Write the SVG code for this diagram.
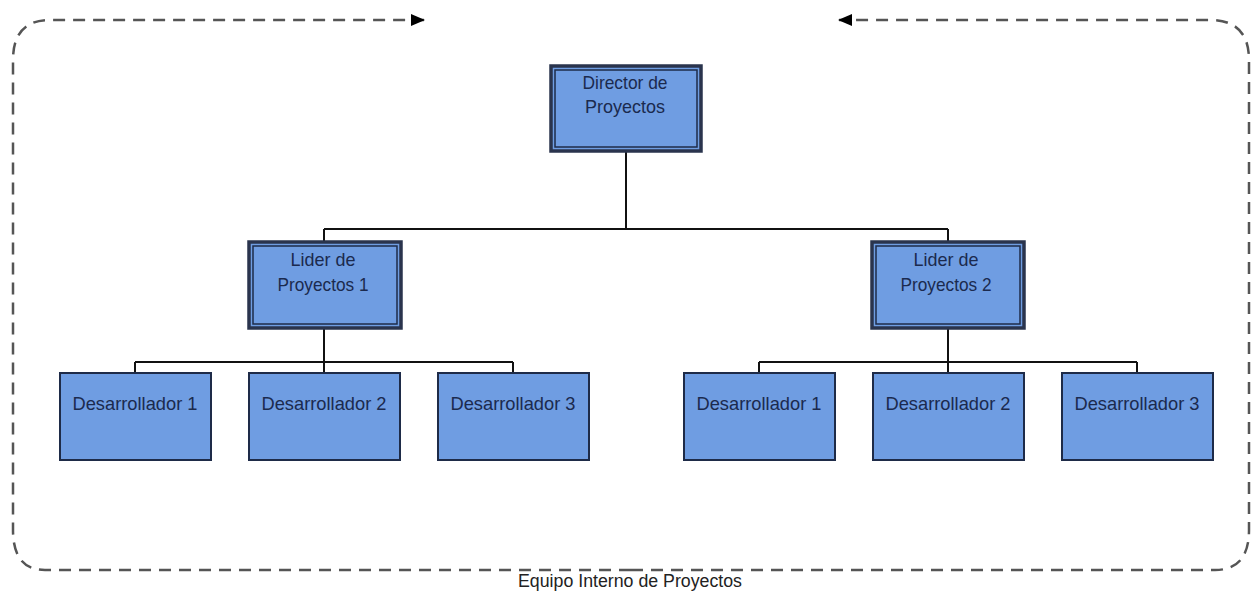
<svg xmlns="http://www.w3.org/2000/svg" width="1251" height="594" viewBox="0 0 1251 594">
  <style>
    .box { fill: #6f9de2; stroke: #1e2b48; stroke-width: 2; }
    .frame { fill: #6f9de2; stroke: #2a344d; stroke-width: 3.5; }
    .inner { fill: none; stroke: #1e2b48; stroke-width: 1.5; }
    .lbl { font-family: "Liberation Sans", Arial, sans-serif; font-size: 19px; fill: #1b2a4e; text-anchor: middle; }
    .wire { fill: none; stroke: #111; stroke-width: 2; }
    .team { fill: none; stroke: #555; stroke-width: 2.5; stroke-dasharray: 12 8; }
    .cap { font-family: "Liberation Sans", Arial, sans-serif; font-size: 18px; fill: #222; text-anchor: middle; }
  </style>
  <defs>
    <marker id="arrow" viewBox="0 0 14 12" refX="13" refY="6" markerWidth="14" markerHeight="12" markerUnits="userSpaceOnUse" orient="auto">
      <path d="M0,0 L14,6 L0,12 Z" fill="#000"/>
    </marker>
  </defs>

  <rect width="1251" height="594" fill="#fff"/>

  <!-- team boundary: two dashed halves meeting at the bottom -->
  <g id="team-boundary">
    <path class="team" d="M631,570 H45 Q13,570 13,530 V60 Q13,20 50,20 H424" marker-end="url(#arrow)"/>
    <path class="team" d="M631,570 H1215 Q1249,570 1249,530 V60 Q1249,20 1210,20 H839" marker-end="url(#arrow)"/>
    <text class="cap" x="630" y="587" textLength="224" lengthAdjust="spacingAndGlyphs">Equipo Interno de Proyectos</text>
  </g>

  <!-- connectors -->
  <g id="connectors">
    <path class="wire" d="M626,151 V229 M324,229 H948 M324,229 V241 M948,229 V241"/>
    <path class="wire" d="M324,329 V362 M135,362 H513 M135,362 V373 M324,362 V373 M513,362 V373"/>
    <path class="wire" d="M948,329 V362 M759,362 H1137 M759,362 V373 M948,362 V373 M1137,362 V373"/>
  </g>

  <g id="director">
    <rect class="frame" x="551" y="66" width="150" height="85"/>
    <rect class="inner" x="555" y="70" width="142" height="77"/>
    <text class="lbl" x="625" y="89" textLength="85" lengthAdjust="spacingAndGlyphs">Director de</text>
    <text class="lbl" x="625" y="113" textLength="80" lengthAdjust="spacingAndGlyphs">Proyectos</text>
  </g>

  <g id="lider-1">
    <rect class="frame" x="249" y="242" width="152" height="86"/>
    <rect class="inner" x="253" y="246" width="144" height="78"/>
    <text class="lbl" x="323" y="266" textLength="65" lengthAdjust="spacingAndGlyphs">Lider de</text>
    <text class="lbl" x="323" y="291" textLength="91" lengthAdjust="spacingAndGlyphs">Proyectos 1</text>
  </g>

  <g id="lider-2">
    <rect class="frame" x="872" y="242" width="152" height="86"/>
    <rect class="inner" x="876" y="246" width="144" height="78"/>
    <text class="lbl" x="946" y="266" textLength="65" lengthAdjust="spacingAndGlyphs">Lider de</text>
    <text class="lbl" x="946" y="291" textLength="91" lengthAdjust="spacingAndGlyphs">Proyectos 2</text>
  </g>

  <g id="dev-1-1">
    <rect class="box" x="60" y="373" width="151" height="87"/>
    <text class="lbl" x="135" y="410" textLength="125" lengthAdjust="spacingAndGlyphs">Desarrollador 1</text>
  </g>
  <g id="dev-1-2">
    <rect class="box" x="249" y="373" width="151" height="87"/>
    <text class="lbl" x="324" y="410" textLength="125" lengthAdjust="spacingAndGlyphs">Desarrollador 2</text>
  </g>
  <g id="dev-1-3">
    <rect class="box" x="438" y="373" width="151" height="87"/>
    <text class="lbl" x="513" y="410" textLength="125" lengthAdjust="spacingAndGlyphs">Desarrollador 3</text>
  </g>
  <g id="dev-2-1">
    <rect class="box" x="684" y="373" width="151" height="87"/>
    <text class="lbl" x="759" y="410" textLength="125" lengthAdjust="spacingAndGlyphs">Desarrollador 1</text>
  </g>
  <g id="dev-2-2">
    <rect class="box" x="873" y="373" width="151" height="87"/>
    <text class="lbl" x="948" y="410" textLength="125" lengthAdjust="spacingAndGlyphs">Desarrollador 2</text>
  </g>
  <g id="dev-2-3">
    <rect class="box" x="1062" y="373" width="151" height="87"/>
    <text class="lbl" x="1137" y="410" textLength="125" lengthAdjust="spacingAndGlyphs">Desarrollador 3</text>
  </g>
</svg>
